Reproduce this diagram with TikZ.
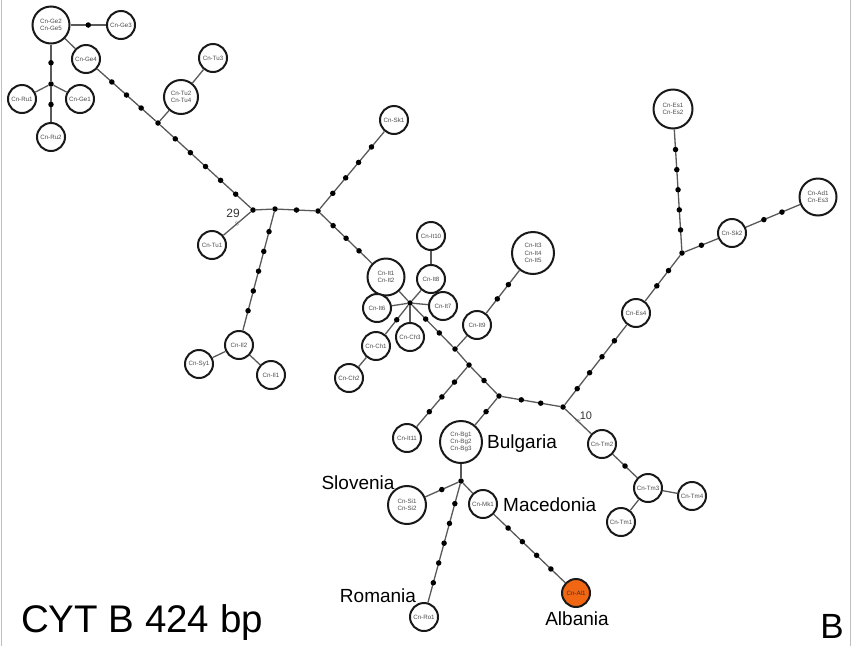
\documentclass[tikz,border=0pt]{standalone}
\usepackage{fontspec}
\setmainfont{Liberation Sans}
\definecolor{albania}{RGB}{240,102,18}
\begin{document}
\begin{tikzpicture}[x=1pt,y=-1pt,
  hap/.style={circle,draw=black!90,line width=2pt,fill=white,minimum size=28pt,inner sep=0pt,align=center,text=black!70,font=\fontsize{6.2}{7.4}\selectfont},
  big/.style={hap,minimum size=37pt},
  huge/.style={hap,minimum size=42pt},
  dot/.style={circle,fill=black,minimum size=5.5pt,inner sep=0pt},
  edge/.style={draw=black!65,line width=1.3pt},
  country/.style={font=\fontsize{19}{19}\selectfont,inner sep=0pt},
  hash/.style={sloped,inner sep=0pt,font=\fontsize{6}{6}\selectfont,text=black!65}]
\useasboundingbox (0,0) rectangle (851,646);
\draw[black!25] (1,0) -- (1,646);
\draw[black!25] (850,0) -- (850,646);

% haplotypes
\node[big] (Ge2) at (51,25) {Cn-Ge2\\Cn-Ge5};
\node[hap] (Ge3) at (121,25) {Cn-Ge3};
\node[hap] (Ge4) at (86,59) {Cn-Ge4};
\node[hap] (Ru1) at (22,99) {Cn-Ru1};
\node[hap] (Ge1) at (80,99) {Cn-Ge1};
\node[hap] (Ru2) at (51,137) {Cn-Ru2};
\node[big,minimum size=34pt] (Tu2) at (181,97) {Cn-Tu2\\Cn-Tu4};
\node[hap] (Tu3) at (213,58) {Cn-Tu3};
\node[hap] (Tu1) at (212,245) {Cn-Tu1};
\node[hap] (Sk1) at (394,120) {Cn-Sk1};
\node[hap] (Il2) at (239,345) {Cn-Il2};
\node[hap] (Sy1) at (199,364) {Cn-Sy1};
\node[hap] (Il1) at (271,375) {Cn-Il1};
\node[big] (It1) at (386,277) {Cn-It1\\Cn-It2};
\node[hap] (It10) at (431,236) {Cn-It10};
\node[hap] (It8) at (431,279) {Cn-It8};
\node[hap] (It7) at (443,306) {Cn-It7};
\node[hap] (It6) at (377,308) {Cn-It6};
\node[hap] (Ch3) at (410,337) {Cn-Ch3};
\node[hap] (Ch1) at (376,346) {Cn-Ch1};
\node[hap] (Ch2) at (349,378) {Cn-Ch2};
\node[huge] (It3) at (533,253) {Cn-It3\\Cn-It4\\Cn-It5};
\node[hap] (It9) at (477,325) {Cn-It9};
\node[hap] (It11) at (407,438) {Cn-It11};
\node[huge] (Bg1) at (461,442) {Cn-Bg1\\Cn-Bg2\\Cn-Bg3};
\node[big,minimum size=38pt] (Si1) at (407,505) {Cn-Si1\\Cn-Si2};
\node[hap] (Mk1) at (483,504) {Cn-Mk1};
\node[hap] (Ro1) at (424,617) {Cn-Ro1};
\node[hap,fill=albania,text=black!80] (Al1) at (576,593) {Cn-Al1};
\node[hap] (Tm2) at (602,444) {Cn-Tm2};
\node[hap] (Tm3) at (648,488) {Cn-Tm3};
\node[hap] (Tm4) at (692,496) {Cn-Tm4};
\node[hap] (Tm1) at (621,522) {Cn-Tm1};
\node[hap] (Es4) at (636,313) {Cn-Es4};
\node[hap] (Sk2) at (732,233) {Cn-Sk2};
\node[big] (Ad1) at (818,197) {Cn-Ad1\\Cn-Es3};
\node[big,minimum size=39pt] (Es1) at (673,109) {Cn-Es1\\Cn-Es2};

% median vectors
\foreach\n/\x/\y in{m1/51/84,m2/158/123,m3/253/210,m4/275/209,m5/318/211,m6/410/303,
  m7/455/349,m8/469/365,m9/499/396,m10/563/407,m11/461/481,m12/682/253}{
  \node[dot] (\n) at (\x,\y) {};
}

% direct links
\foreach\a/\b in{Ge2/Ge4,m1/Ru1,m1/Ge1,m2/Tu2,Tu2/Tu3,m3/m4,Il2/Sy1,Il2/Il1,It1/m6,m6/It8,
  It8/It10,m6/It7,m6/It6,m6/Ch3,Ch1/Ch2,m7/It9,m7/m8,Tm3/Tm4,Tm3/Tm1,Bg1/m11,m11/Mk1}{
  \draw[edge] (\a) -- (\b);
}

% links with mutation steps
\foreach\a/\b/\s in{Ge2/Ge3/1,Ge2/m1/1,m1/Ru2/1,Ge4/m2/3,m2/m3/5,m4/m5/1,m4/Il2/5,m5/Sk1/4,
  m5/It1/3,m6/Ch1/1,m6/m7/2,It9/It3/2,m8/It11/3,m8/m9/1,m9/Bg1/1,m9/m10/2,m10/Es4/4,
  Es4/m12/2,m12/Es1/5,m12/Sk2/1,Sk2/Ad1/2,Tm2/Tm3/1,m11/Si1/1,m11/Ro1/5,Mk1/Al1/4}{
  \draw[edge] (\a) -- (\b);
  \foreach\k[evaluate=\k as \t using \k/(\s+1)] in{1,...,\s}{
    \path (\a) -- (\b) node[dot,pos=\t] {};
  }
}

\draw[edge] (m3) -- (Tu1) node[hash,midway] {//} node[midway,above=2pt,xshift=-4pt,font=\fontsize{12}{12}\selectfont,text=black!80] {29};
\draw[edge] (m10) -- (Tm2) node[hash,midway] {//} node[midway,anchor=south west,inner sep=1pt,font=\fontsize{11}{11}\selectfont,text=black!80] {10};

% countries
\node[country,anchor=base west] (bul) at (487,448) {Bulgaria};
\node[country,anchor=base] (slo) at (358,489) {Slovenia};
\node[country,anchor=base west] (mac) at (503,511) {Macedonia};
\node[country,anchor=base] (rom) at (378,602) {Romania};
\node[country,anchor=base] (alb) at (577,625) {Albania};

\node[anchor=base,inner sep=0pt,font=\fontsize{38.5}{38.5}\selectfont] (title) at (142,632) {CYT B 424 bp};
\node[anchor=base,inner sep=0pt,font=\fontsize{35}{35}\selectfont] (panel) at (832,638) {B};
\end{tikzpicture}
\end{document}
